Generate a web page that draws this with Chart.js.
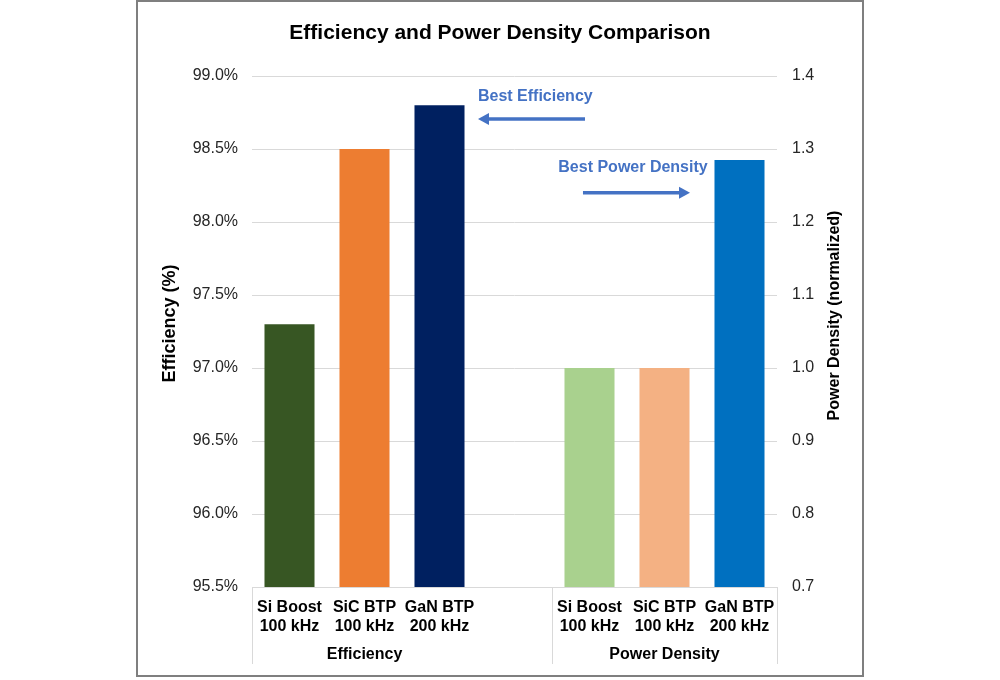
<!DOCTYPE html>
<html>
<head>
<meta charset="utf-8">
<script src="https://cdn.jsdelivr.net/npm/chart.js@4/dist/chart.umd.min.js"></script>
<style>
  html, body { margin: 0; padding: 0; background: #ffffff; }
  #wrap { position: relative; width: 1000px; height: 680px; }
</style>
</head>
<body>
<div id="wrap"><canvas id="c" width="1000" height="680"></canvas></div>
<script>
// ---- data ----
const categories = [["Si Boost", "100 kHz"], ["SiC BTP", "100 kHz"], ["GaN BTP", "200 kHz"], "",
                    ["Si Boost", "100 kHz"], ["SiC BTP", "100 kHz"], ["GaN BTP", "200 kHz"]];
const efficiency = [97.3, 98.5, 98.8, null, null, null, null];
const powerDensity = [null, null, null, null, 1.0, 1.0, 1.285];
const efficiencyColors = ["#375623", "#ED7D31", "#002060", null, null, null, null];
const powerColors = [null, null, null, null, "#A9D18E", "#F4B183", "#0070C0"];
const groupLabels = ["Efficiency", "Power Density"];
const groupRanges = [[0, 2], [4, 6]];
const groupSeparators = [-0.5, 3.5, 6.5];
const effTicks = { min: 95.5, max: 99.0, step: 0.5 };
const pdTicks = { min: 0.7, max: 1.4, step: 0.1 };
const titleText = "Efficiency and Power Density Comparison";
const leftAxisTitle = "Efficiency (%)";
const rightAxisTitle = "Power Density (normalized)";
const callouts = [
  { text: "Best Efficiency", axis: "y", textX: 2.513, textY: 98.856, from: 3.94, to: 2.513, arrowY: 98.705 },
  { text: "Best Power Density", axis: "y1", textX: 4.58, textY: 1.274, from: 3.913, to: 5.34, arrowY: 1.240, center: true }
];

const FONT = "'Liberation Sans', Arial, sans-serif";
const BLUE = "#4472C4";

const framePlugin = {
  id: 'frame',
  beforeDraw(chart) {
    const ctx = chart.ctx;
    ctx.save();
    ctx.fillStyle = '#ffffff';
    ctx.fillRect(0, 0, chart.width, chart.height);
    ctx.strokeStyle = '#7f7f7f';
    ctx.lineWidth = 2;
    ctx.strokeRect(137, 1, 726, 675);
    ctx.restore();
  }
};

const groupPlugin = {
  id: 'groups',
  afterDraw(chart) {
    const ctx = chart.ctx;
    const x = chart.scales.x;
    const area = chart.chartArea;
    const top = area.bottom;
    ctx.save();
    ctx.strokeStyle = '#d9d9d9';
    ctx.lineWidth = 1;
    groupSeparators.forEach(v => {
      const px = Math.round(x.getPixelForValue(v)) + 0.5;
      ctx.beginPath();
      ctx.moveTo(px, top);
      ctx.lineTo(px, top + 77);
      ctx.stroke();
    });
    ctx.fillStyle = '#000000';
    ctx.font = "bold 16px " + FONT;
    ctx.textAlign = 'center';
    ctx.textBaseline = 'middle';
    groupLabels.forEach((g, i) => {
      const a = x.getPixelForValue(groupRanges[i][0] - 0.5);
      const b = x.getPixelForValue(groupRanges[i][1] + 0.5);
      ctx.fillText(g, (a + b) / 2, top + 68);
    });
    // axis titles (both read bottom-to-top)
    const midY = (area.top + area.bottom) / 2;
    ctx.save();
    ctx.translate(area.left - 82, midY - 8);
    ctx.rotate(-Math.PI / 2);
    ctx.font = "bold 18px " + FONT;
    ctx.fillText(leftAxisTitle, 0, 0);
    ctx.restore();
    ctx.save();
    ctx.translate(area.right + 58, midY - 16);
    ctx.rotate(-Math.PI / 2);
    ctx.font = "bold 16px " + FONT;
    ctx.fillText(rightAxisTitle, 0, 0);
    ctx.restore();
    // callouts
    ctx.fillStyle = BLUE;
    ctx.strokeStyle = BLUE;
    callouts.forEach(c => {
      const ys = chart.scales[c.axis];
      ctx.font = "bold 16px " + FONT;
      ctx.textBaseline = 'middle';
      ctx.textAlign = c.center ? 'center' : 'left';
      ctx.fillText(c.text, x.getPixelForValue(c.textX), ys.getPixelForValue(c.textY));
      const x1 = x.getPixelForValue(c.from);
      const x2 = x.getPixelForValue(c.to);
      const y = ys.getPixelForValue(c.arrowY);
      const dir = Math.sign(x2 - x1);
      const head = 11;
      ctx.lineWidth = 3.5;
      ctx.beginPath();
      ctx.moveTo(x1, y);
      ctx.lineTo(x2 - dir * head, y);
      ctx.stroke();
      ctx.beginPath();
      ctx.moveTo(x2, y);
      ctx.lineTo(x2 - dir * head, y - 6);
      ctx.lineTo(x2 - dir * head, y + 6);
      ctx.closePath();
      ctx.fill();
    });
    ctx.restore();
  }
};

new Chart(document.getElementById('c'), {
  type: 'bar',
  data: {
    labels: categories,
    datasets: [
      { label: 'Efficiency', data: efficiency, backgroundColor: efficiencyColors, yAxisID: 'y',
        grouped: false, barPercentage: 0.667, categoryPercentage: 1.0 },
      { label: 'Power Density', data: powerDensity, backgroundColor: powerColors, yAxisID: 'y1',
        grouped: false, barPercentage: 0.667, categoryPercentage: 1.0 }
    ]
  },
  options: {
    responsive: false,
    animation: false,
    events: [],
    layout: { padding: { left: 140, right: 140, top: 0, bottom: 0 } },
    plugins: {
      legend: { display: false },
      tooltip: { enabled: false },
      title: {
        display: true, text: titleText, color: '#000000',
        font: { family: FONT, size: 21, weight: 'bold' },
        padding: { top: 20.4, bottom: 30.4 }
      }
    },
    scales: {
      x: {
        grid: { display: false, drawTicks: false },
        border: { display: true, color: '#d9d9d9' },
        ticks: { color: '#000000', font: { family: FONT, size: 16, weight: 'bold' }, padding: 11,
                 maxRotation: 0, autoSkip: false },
        afterFit(s) { s.height = 93; }
      },
      y: {
        position: 'left', min: effTicks.min, max: effTicks.max,
        grid: { color: '#d9d9d9', drawTicks: false },
        border: { display: false },
        ticks: { stepSize: effTicks.step, padding: 14, color: '#262626',
                 font: { family: FONT, size: 16 },
                 callback: v => Number(v).toFixed(1) + '%' },
        afterFit(s) { s.width = 112; }
      },
      y1: {
        position: 'right', min: pdTicks.min, max: pdTicks.max,
        grid: { display: false, drawTicks: false },
        border: { display: false },
        ticks: { stepSize: pdTicks.step, padding: 15, color: '#262626',
                 font: { family: FONT, size: 16 },
                 callback: v => Number(v).toFixed(1) },
        afterFit(s) { s.width = 83; }
      }
    }
  },
  plugins: [framePlugin, groupPlugin]
});
</script>
</body>
</html>
